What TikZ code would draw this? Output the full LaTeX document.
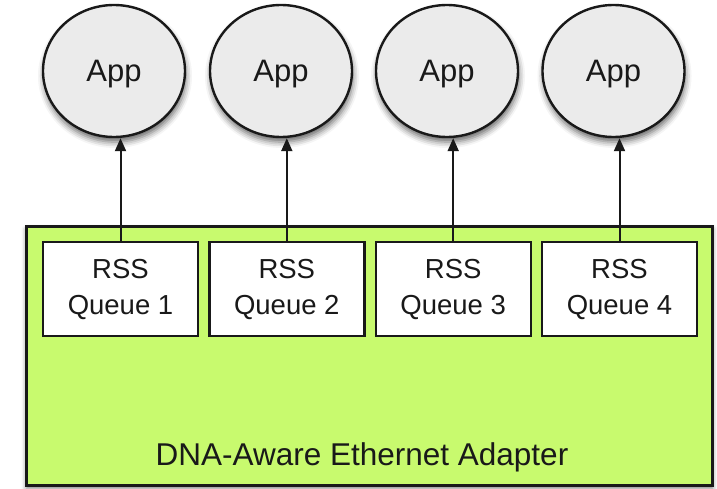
\documentclass[tikz,border=0pt]{standalone}
\usepackage{fontspec}
\setmainfont{Liberation Sans}
\usetikzlibrary{shapes.geometric,arrows.meta,shadows.blur}

\definecolor{adaptergreen}{RGB}{200,250,110}
\definecolor{appgray}{RGB}{235,235,235}
\definecolor{inkgray}{RGB}{25,25,25}

\tikzset{
  appnode/.style={ellipse, draw=inkgray, line width=2.4pt, fill=appgray,
    minimum width=142pt, minimum height=132pt, inner sep=0pt,
    font=\fontsize{31}{34}\selectfont, text=inkgray,
    blur shadow={shadow xshift=1pt, shadow yshift=-5pt, shadow blur radius=6pt, shadow opacity=60}},
  queuebox/.style={rectangle, draw=inkgray, line width=2.4pt, fill=white,
    minimum width=155pt, minimum height=94pt, inner sep=0pt, align=center,
    font=\fontsize{27.5}{36}\selectfont, text=inkgray},
  adapterbox/.style={rectangle, draw=inkgray, line width=2.6pt, fill=adaptergreen,
    minimum width=686pt, minimum height=259pt, inner sep=0pt,
    blur shadow={shadow xshift=0pt, shadow yshift=-3pt, shadow blur radius=5pt, shadow opacity=50}},
  feed/.style={-{Triangle[length=13pt,width=11pt]}, line width=2pt, draw=inkgray}
}
% label set with its baseline a fixed distance below the node centre
\newcommand{\applabel}{\smash{\raisebox{-11pt}{App}}}

\begin{document}
\begin{tikzpicture}[x=1pt,y=-1pt]
  \useasboundingbox (0,0) rectangle (717,489);

  % network adapter body
  \node[adapterbox] (adapter) at (369.5,356) {};
  \node[font=\fontsize{31.5}{34}\selectfont, text=inkgray] (adlabel) at (362,457) {DNA-Aware Ethernet Adapter};

  % receive queues
  \node[queuebox] (q1) at (120.5,289) {RSS\\Queue 1};
  \node[queuebox] (q2) at (286.8,289) {RSS\\Queue 2};
  \node[queuebox] (q3) at (453.2,289) {RSS\\Queue 3};
  \node[queuebox] (q4) at (619.5,289) {RSS\\Queue 4};

  % applications
  \node[appnode] (a1) at (114,71) {\applabel};
  \node[appnode] (a2) at (281,71) {\applabel};
  \node[appnode] (a3) at (447,71) {\applabel};
  \node[appnode] (a4) at (613.5,71) {\applabel};

  % queue to application feeds
  \foreach \i in {1,...,4}{
    \draw[feed] (q\i.north) -- (q\i.north |- a\i.south);
  }
\end{tikzpicture}
\end{document}
